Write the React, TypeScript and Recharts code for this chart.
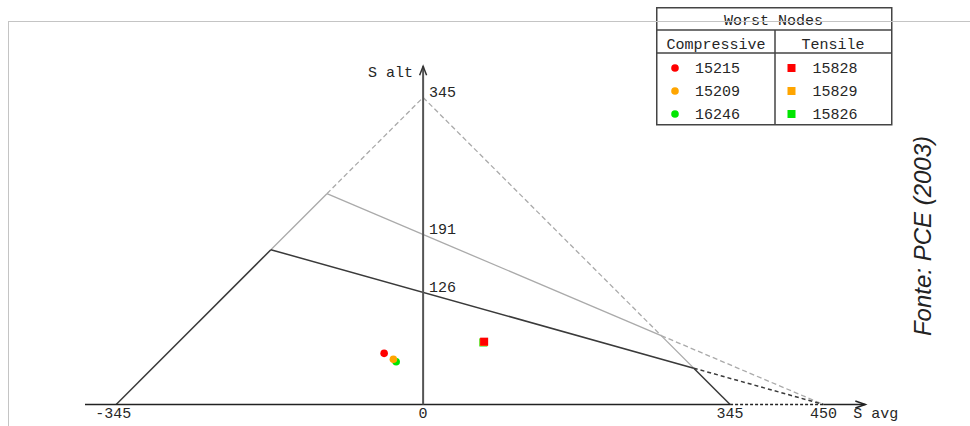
import React from 'react';
import {
  ScatterChart,
  Scatter,
  XAxis,
  YAxis,
  ReferenceLine,
  ReferenceDot,
  Legend,
} from 'recharts';

// Material limits (MPa) for the modified Goodman diagram
const ultimateStrength = 450;
const yieldStrength = 345;
const enduranceLimits = [126, 191]; // design limit, upper limit

const xTicks = [-345, 0, 345, 450];
const xDomain = [-380, 500];
const yDomain = [0, 380];

// Worst nodes: mean stress (S avg) and alternating stress (S alt)
const compressiveNodes = ['15215', '15209', '16246'];
const compressiveAvg = [-43.8, -33.4, -30.3];
const compressiveAlt = [57.5, 50.8, 48.1];

const tensileNodes = ['15828', '15829', '15826'];
const tensileAvg = [68.6, 68.2, 67.7];
const tensileAlt = [70.6, 70.2, 69.7];

const nodeColors = ['#ff0000', '#ffa500', '#00e600'];

const MONO = '"Liberation Mono", "DejaVu Sans Mono", monospace';
const FS = 15;
const TEXT = '#262626';
const DARK = '#3a3a3a';
const LIGHT = '#aaaaaa';

type Pt = { x: number; y: number };

// Goodman line alt = Se * (1 - avg / Su) meets the yield lines alt = Sy +/- avg
const leftKnee = (se: number): Pt => {
  const avg = (se - yieldStrength) / (1 + se / ultimateStrength);
  return { x: avg, y: yieldStrength + avg };
};
const rightKnee = (se: number): Pt => {
  const avg = (yieldStrength - se) / (1 - se / ultimateStrength);
  return { x: avg, y: yieldStrength - avg };
};

const [seLow, seHigh] = enduranceLimits;
const apex: Pt = { x: 0, y: yieldStrength };
const suPoint: Pt = { x: ultimateStrength, y: 0 };
const syPoint: Pt = { x: yieldStrength, y: 0 };
const negSyPoint: Pt = { x: -yieldStrength, y: 0 };

type Seg = { a: Pt; b: Pt; color: string; width: number; dash?: string };

const segments: Seg[] = [
  // upper limit line
  { a: leftKnee(seHigh), b: apex, color: LIGHT, width: 1.3, dash: '5 3' },
  { a: apex, b: rightKnee(seHigh), color: LIGHT, width: 1.3, dash: '5 3' },
  { a: leftKnee(seHigh), b: rightKnee(seHigh), color: LIGHT, width: 1.3 },
  { a: rightKnee(seHigh), b: suPoint, color: LIGHT, width: 1.3, dash: '5 3' },
  { a: leftKnee(seHigh), b: leftKnee(seLow), color: LIGHT, width: 1.3 },
  { a: rightKnee(seHigh), b: rightKnee(seLow), color: LIGHT, width: 1.3 },
  // design limit line
  { a: negSyPoint, b: leftKnee(seLow), color: DARK, width: 1.5 },
  { a: leftKnee(seLow), b: rightKnee(seLow), color: DARK, width: 1.5 },
  { a: rightKnee(seLow), b: syPoint, color: DARK, width: 1.5 },
  { a: rightKnee(seLow), b: suPoint, color: DARK, width: 1.5, dash: '4 3' },
  // axes
  { a: { x: xDomain[0], y: 0 }, b: syPoint, color: '#222222', width: 1.5 },
  { a: syPoint, b: suPoint, color: '#222222', width: 1.5, dash: '3 2' },
  { a: suPoint, b: { x: xDomain[1] - 3, y: 0 }, color: '#222222', width: 1.5 },
  { a: { x: 0, y: 0 }, b: { x: 0, y: yDomain[1] }, color: '#555555', width: 2 },
];

const buildRows = (avg: number[], alt: number[], nodes: string[]) =>
  nodes
    .map((node, i) => ({ node, avg: avg[i], alt: alt[i], color: nodeColors[i] }))
    .reverse();

const compressiveRows = buildRows(compressiveAvg, compressiveAlt, compressiveNodes);
const tensileRows = buildRows(tensileAvg, tensileAlt, tensileNodes);

const CircleMark = (props: any) => (
  <circle cx={props.cx} cy={props.cy} r={3.8} fill={props.payload.color} />
);
const SquareMark = (props: any) => (
  <rect x={props.cx - 4} y={props.cy - 4} width={8} height={8} fill={props.payload.color} />
);

const XTick = (props: any) => (
  <text
    x={props.x - (props.payload.value < 0 ? 3 : 0)}
    y={props.y + 13.5}
    textAnchor="middle"
    fontFamily={MONO}
    fontSize={FS}
    fill={TEXT}
  >
    {String(props.payload.value)}
  </text>
);

const NodesTable = () => {
  const w = 235;
  const h = 117;
  const mid = 119;
  const rowY = [72.5, 95.5, 118.5].map((v) => v - 7);
  return (
    <svg width={w + 2} height={h + 2} style={{ display: 'block', overflow: 'visible' }}>
      <rect x={0.75} y={0.75} width={w} height={h} fill="none" stroke="#444" strokeWidth={1.5} />
      <line x1={0.75} x2={w + 0.75} y1={23} y2={23} stroke="#444" strokeWidth={1.5} />
      <line x1={0.75} x2={w + 0.75} y1={46} y2={46} stroke="#444" strokeWidth={1.5} />
      <line x1={mid} x2={mid} y1={23} y2={h + 0.75} stroke="#444" strokeWidth={1.5} />
      <text x={w / 2} y={17.5} textAnchor="middle" fontFamily={MONO} fontSize={FS} fill={TEXT}>
        Worst Nodes
      </text>
      <text x={60} y={42} textAnchor="middle" fontFamily={MONO} fontSize={FS} fill={TEXT}>
        Compressive
      </text>
      <text x={177} y={42} textAnchor="middle" fontFamily={MONO} fontSize={FS} fill={TEXT}>
        Tensile
      </text>
      {compressiveNodes.map((n, i) => (
        <g key={n}>
          <circle cx={19} cy={rowY[i] - 4.5} r={3.8} fill={nodeColors[i]} />
          <text x={39} y={rowY[i]} fontFamily={MONO} fontSize={FS} fill={TEXT}>
            {n}
          </text>
        </g>
      ))}
      {tensileNodes.map((n, i) => (
        <g key={n}>
          <rect x={131.5} y={rowY[i] - 8.5} width={8} height={8} fill={nodeColors[i]} />
          <text x={156.5} y={rowY[i]} fontFamily={MONO} fontSize={FS} fill={TEXT}>
            {n}
          </text>
        </g>
      ))}
    </svg>
  );
};

export default function App() {
  return (
    <div style={{ position: 'absolute', left: 0, top: 0, width: 970, height: 426, background: '#fff' }}>
      <ScatterChart
        width={970}
        height={426}
        margin={{ top: 66.3, right: 102, bottom: 0, left: 85 }}
      >
        <XAxis
          type="number"
          dataKey="avg"
          domain={xDomain}
          ticks={xTicks}
          allowDataOverflow
          height={21.5}
          axisLine={false}
          tickLine={false}
          tickSize={0}
          tickMargin={0}
          interval={0}
          tick={<XTick />}
        />
        <YAxis type="number" dataKey="alt" domain={yDomain} allowDataOverflow hide />
        {segments.map((s, i) => (
          <ReferenceLine
            key={i}
            segment={[s.a, s.b]}
            stroke={s.color}
            strokeWidth={s.width}
            strokeDasharray={s.dash}
            ifOverflow="visible"
          />
        ))}
        {/* S alt arrow and label */}
        <ReferenceDot
          x={0}
          y={yDomain[1]}
          ifOverflow="visible"
          shape={(p: any) => (
            <g>
              <path
                d={`M${p.cx - 3.5},${p.cy + 9} L${p.cx},${p.cy} L${p.cx + 3.5},${p.cy + 9}`}
                fill="none"
                stroke="#333"
                strokeWidth={1.5}
              />
              <text
                x={p.cx - 10}
                y={p.cy + 10.7}
                textAnchor="end"
                fontFamily={MONO}
                fontSize={FS}
                fill={TEXT}
              >
                S alt
              </text>
            </g>
          )}
        />
        {/* S avg arrow and label */}
        <ReferenceDot
          x={xDomain[1] - 3}
          y={0}
          ifOverflow="visible"
          shape={(p: any) => (
            <g>
              <path
                d={`M${p.cx - 10},${p.cy - 3.5} L${p.cx},${p.cy} L${p.cx - 10},${p.cy + 3.5}`}
                fill="none"
                stroke="#222"
                strokeWidth={1.5}
              />
              <text x={p.cx - 12} y={p.cy + 13.5} fontFamily={MONO} fontSize={FS} fill={TEXT}>
                S avg
              </text>
            </g>
          )}
        />
        {/* S alt values on the vertical axis */}
        {[yieldStrength, ...enduranceLimits].map((v) => (
          <ReferenceDot
            key={v}
            x={0}
            y={v}
            ifOverflow="visible"
            shape={(p: any) => (
              <text x={p.cx + 6} y={p.cy - 0.5} fontFamily={MONO} fontSize={FS} fill={TEXT}>
                {String(v)}
              </text>
            )}
          />
        ))}
        <Scatter
          name="Compressive"
          data={compressiveRows}
          shape={<CircleMark />}
          isAnimationActive={false}
        />
        <Scatter
          name="Tensile"
          data={tensileRows}
          shape={<SquareMark />}
          isAnimationActive={false}
        />
        <Legend
          layout="horizontal"
          verticalAlign="middle"
          align="center"
          content={() => <NodesTable />}
          wrapperStyle={{ position: 'absolute', left: 656, top: 7, width: 237, height: 119 }}
        />
      </ScatterChart>
      <svg
        width={970}
        height={426}
        style={{ position: 'absolute', left: 0, top: 0, pointerEvents: 'none' }}
      >
        <line x1={8} x2={970} y1={21.5} y2={21.5} stroke="#c4c4c4" strokeWidth={1} />
        <line x1={8.5} x2={8.5} y1={21.5} y2={426} stroke="#c4c4c4" strokeWidth={1} />
        <text
          x={931}
          y={236}
          transform="rotate(-90, 931, 236)"
          textAnchor="middle"
          fontFamily='"Liberation Sans", Arial, sans-serif'
          fontStyle="italic"
          fontSize={24}
          fill="#222"
        >
          Fonte: PCE (2003)
        </text>
      </svg>
    </div>
  );
}
